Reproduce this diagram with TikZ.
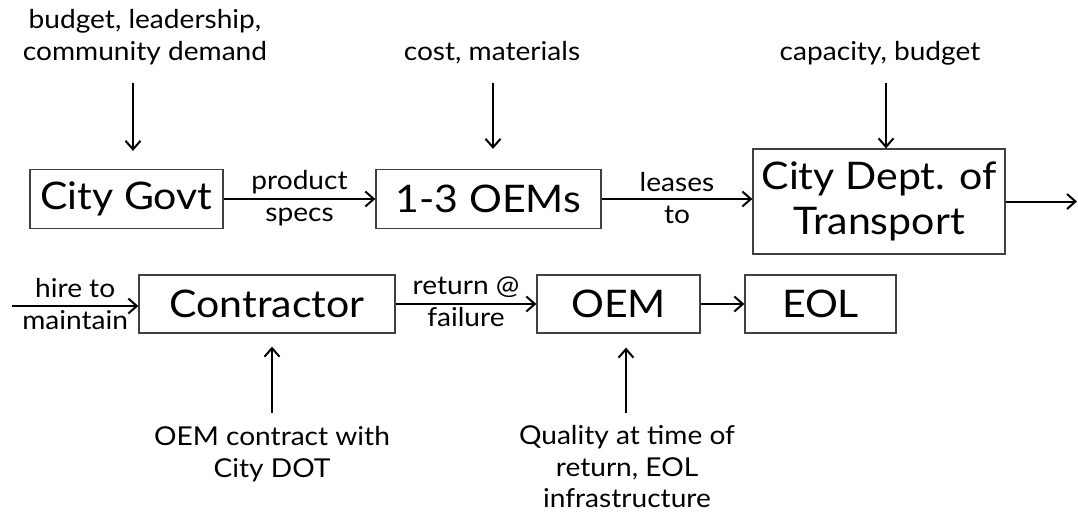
\documentclass[tikz,border=0pt]{standalone}
\usepackage{fontspec}
\setmainfont{Lato}[FakeStretch=1.08]
\usetikzlibrary{arrows.meta}
\begin{document}
\begin{tikzpicture}[x=1pt,y=-1pt,
  box/.style={draw=black!75, line width=1.3pt, inner sep=0pt, align=center,
    font=\fontsize{38}{45}\selectfont},
  lbl/.style={inner sep=0pt, align=center, font=\fontsize{26}{31.5}\selectfont},
  arr/.style={line width=2pt, -{Straight Barb[length=8.5pt,width=15pt,line width=2pt]}}]
\useasboundingbox (0,0) rectangle (1078,514);
% row 1
\node[box, minimum width=193pt, minimum height=59pt] (govt) at (126.5,199) {City Govt};
\node[box, minimum width=225pt, minimum height=59pt] (oems) at (488.5,199) {1-3 OEMs};
\node[box, minimum width=252pt, minimum height=105pt] (dept) at (879,201.5) {City Dept. of\\Transport};
\coordinate (out) at (1077,201.5);
% row 2
\coordinate (in) at (12,306);
\node[box, minimum width=256pt, minimum height=58pt] (contr) at (267,304) {Contractor};
\node[box, minimum width=163pt, minimum height=58pt] (oem) at (618.5,304) {OEM};
\node[box, minimum width=151pt, minimum height=58pt] (eol) at (820.5,304) {EOL};
% top labels
\node[lbl] (t1) at (145,37) {budget, leadership,\\community demand};
\node[lbl] (t2) at (492,53) {cost, materials};
\node[lbl] (t3) at (880,53) {capacity, budget};
\coordinate (a1) at (133,83);
\coordinate (a2) at (493,83);
\coordinate (a3) at (886,83);
\draw[arr, shorten >=18pt] (a1) -- (a1 |- govt.north);
\draw[arr, shorten >=20pt] (a2) -- (a2 |- oems.north);
\draw[arr] (a3) -- (a3 |- dept.north);
% bottom labels
\node[lbl] (b1) at (272,454) {OEM contract with\\City DOT};
\node[lbl] (b2) at (627,467) {Quality at time of\\return, EOL\\infrastructure};
\coordinate (c1) at (272,413);
\coordinate (c2) at (626,413);
\draw[arr, shorten >=13pt] (c1) -- (c1 |- contr.south);
\draw[arr, shorten >=14pt] (c2) -- (c2 |- oem.south);
% row 1 connectors
\draw[arr] (govt.east) -- node[lbl, yshift=1pt]{product\\specs} (oems.west);
\draw[arr] (oems.east) -- node[lbl, yshift=1pt]{leases\\to} (oems.east -| dept.west);
\draw[arr] (dept.east) -- (out);
% row 2 connectors
\draw[arr] (in) -- node[lbl, yshift=2pt]{hire to\\maintain} (in -| contr.west);
\draw[arr] (contr.east) -- node[lbl, yshift=2pt]{return @\\failure} (oem.west);
\draw[arr] (oem.east) -- (eol.west);
\end{tikzpicture}
\end{document}
